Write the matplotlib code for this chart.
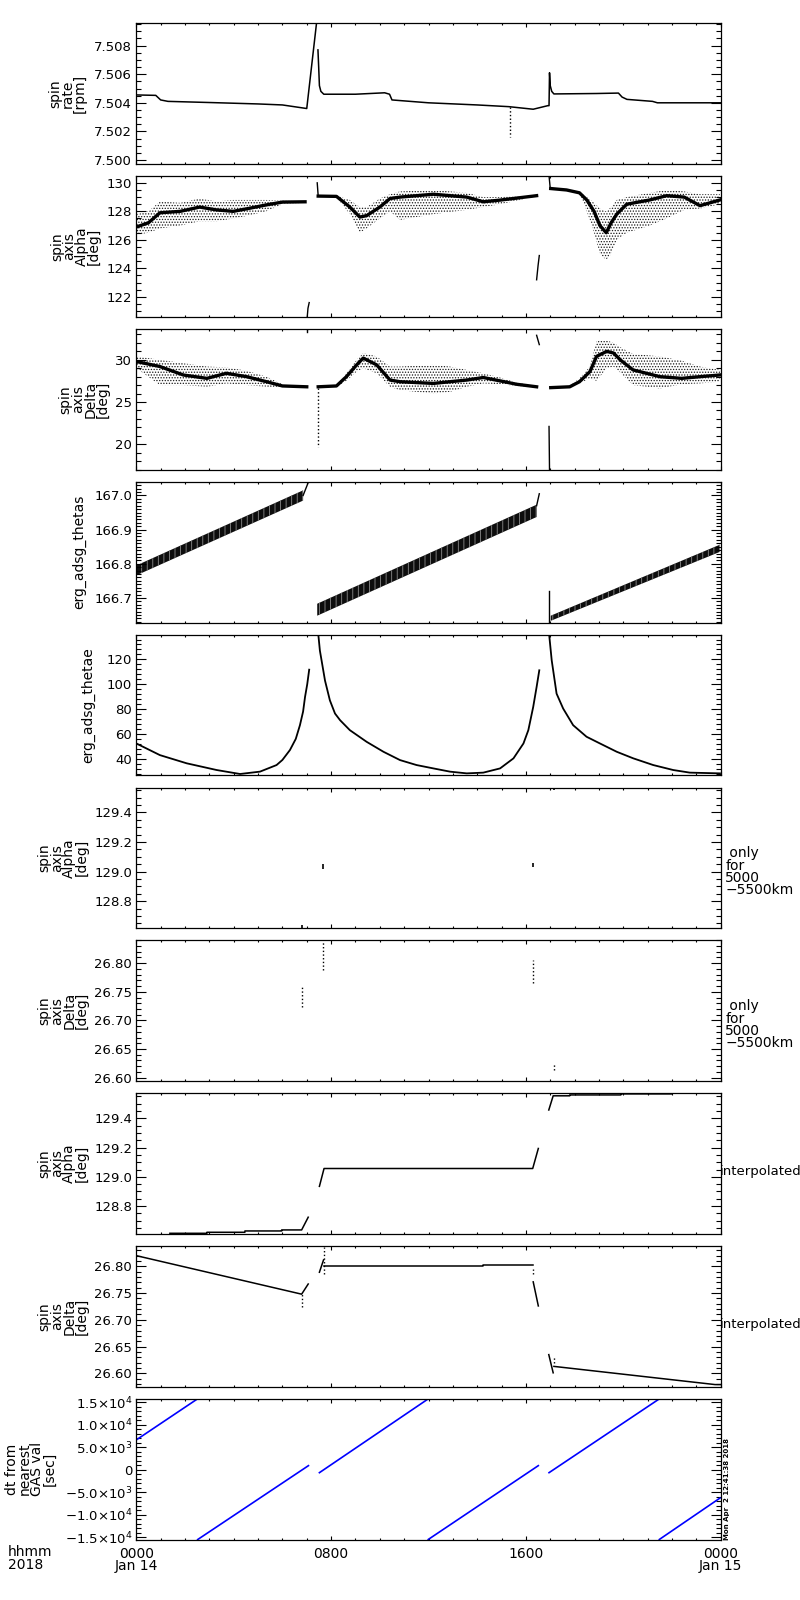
import matplotlib
matplotlib.use('Agg')
import matplotlib.pyplot as plt
from matplotlib.ticker import MultipleLocator, FormatStrFormatter, FixedLocator, FixedFormatter

plt.rcParams['hatch.linewidth'] = 0.6

# --- Data, time in hours from 2018-01-14 0000

# spin rate [rpm]
rate_t = [0.0, 0.8, 1.0, 1.3, 3.0, 5.0, 6.0, 7.0, 7.43]
rate_v = [7.50455, 7.50452, 7.50420, 7.50410, 7.50402, 7.50392, 7.50385, 7.50360, 7.51000]
rate_t2 = [7.46, 7.49, 7.52, 7.58, 7.7, 9.0, 10.2, 10.4, 10.5, 12.0, 14.0, 15.3, 16.3, 16.9,
           16.95, 16.97, 17.0, 17.06, 17.15, 18.9, 19.8, 19.95, 20.15, 21.2, 21.4, 24.0]
rate_v2 = [7.5077, 7.5065, 7.5052, 7.5048, 7.5046, 7.5046, 7.5047, 7.5046, 7.5042, 7.5040,
           7.50385, 7.50373, 7.50355, 7.5038,
           7.5038, 7.5061, 7.5052, 7.5048, 7.50462, 7.50465, 7.50468, 7.5044, 7.50424,
           7.5041, 7.5040, 7.5040]
rate_drop_t = [15.35, 15.35]
rate_drop_v = [7.5037, 7.5016]

# spin axis alpha [deg]: dense core plus scatter envelope
alpha_t_a = [0.0, 0.5, 0.97, 1.8, 2.6, 3.3, 3.98, 4.6, 5.33, 6.0, 6.93]
alpha_core_a = [126.9, 127.2, 127.9, 128.0, 128.3, 128.1, 128.0, 128.2, 128.45, 128.65, 128.67]
alpha_lo_a = [126.35, 126.5, 126.8, 127.0, 127.3, 127.3, 127.5, 127.7, 128.0, 128.5, 128.6]
alpha_hi_a = [127.8, 128.0, 128.7, 128.6, 128.9, 128.7, 128.8, 128.8, 128.8, 128.75, 128.7]
alpha_t_b = [7.47, 8.22, 8.77, 9.18, 9.46, 10.0, 10.42, 10.83, 12.2, 13.57, 14.25, 14.94, 16.3, 16.44]
alpha_core_b = [129.07, 129.05, 128.3, 127.6, 127.7, 128.3, 128.9, 129.0, 129.2, 129.0, 128.67, 128.79, 129.07, 129.1]
alpha_lo_b = [129.05, 129.0, 127.8, 126.5, 126.8, 127.5, 128.0, 127.4, 127.8, 128.1, 128.3, 128.5, 129.0, 129.05]
alpha_hi_b = [129.1, 129.1, 128.8, 128.3, 128.3, 128.9, 129.2, 129.4, 129.5, 129.3, 129.0, 129.0, 129.1, 129.1]
alpha_t_c = [17.02, 17.67, 18.2, 18.5, 18.8, 19.04, 19.3, 19.5, 19.73, 20.14, 21.09, 21.78, 22.5, 23.15, 23.97]
alpha_core_c = [129.6, 129.5, 129.3, 128.8, 128.0, 127.0, 126.5, 127.2, 127.8, 128.5, 128.8, 129.1, 129.0, 128.4, 128.8]
alpha_lo_c = [129.55, 129.45, 129.2, 128.0, 126.5, 125.0, 124.6, 125.0, 126.0, 126.5, 127.0, 127.5, 128.1, 128.2, 128.5]
alpha_hi_c = [129.6, 129.55, 129.35, 129.0, 128.6, 128.2, 128.0, 128.3, 128.8, 129.0, 129.3, 129.5, 129.4, 129.2, 129.2]
alpha_spk_t = [[7.02, 7.05, 7.1], [7.43, 7.47], [16.44, 16.5, 16.55], [16.95, 17.0]]
alpha_spk_v = [[120.6, 121.2, 121.6], [130.0, 129.07], [123.2, 124.2, 124.9], [130.5, 129.6]]

# spin axis delta [deg]
delta_t_a = [0.0, 0.97, 1.93, 2.9, 3.7, 4.53, 5.35, 6.0, 7.0]
delta_core_a = [29.8, 29.2, 28.2, 27.8, 28.4, 28.0, 27.4, 26.9, 26.8]
delta_lo_a = [29.0, 27.0, 27.0, 26.8, 27.2, 27.0, 26.8, 26.7, 26.75]
delta_hi_a = [30.4, 30.0, 29.6, 29.2, 29.1, 28.7, 28.0, 27.1, 26.85]
delta_t_b = [7.47, 8.22, 8.63, 9.05, 9.32, 9.87, 10.42, 10.83, 12.2, 12.88, 13.57, 14.25, 14.94, 15.62, 16.44]
delta_core_b = [26.8, 26.9, 28.0, 29.4, 30.2, 29.4, 27.6, 27.4, 27.2, 27.4, 27.6, 27.9, 27.5, 27.1, 26.8]
delta_lo_b = [26.75, 26.8, 27.5, 28.6, 29.0, 28.4, 26.8, 26.4, 26.0, 26.2, 26.8, 27.2, 27.1, 26.9, 26.75]
delta_hi_b = [26.85, 27.0, 28.4, 30.0, 30.8, 30.4, 29.2, 29.2, 29.4, 29.2, 28.8, 28.4, 27.9, 27.3, 26.85]
delta_t_c = [17.02, 17.8, 18.2, 18.63, 18.9, 19.32, 19.6, 19.87, 20.4, 21.5, 22.4, 23.15, 23.97]
delta_core_c = [26.7, 26.8, 27.4, 28.6, 30.4, 31.0, 30.8, 30.0, 28.8, 28.0, 27.8, 28.0, 28.2]
delta_lo_c = [26.65, 26.75, 27.2, 27.8, 27.5, 29.0, 29.2, 28.5, 27.0, 26.6, 27.1, 27.2, 27.4]
delta_hi_c = [26.75, 26.9, 27.8, 29.2, 32.2, 32.3, 32.0, 31.5, 30.7, 30.4, 29.9, 29.2, 28.8]
delta_spk_t = [[7.0, 7.0], [16.44, 16.55], [16.95, 16.97]]
delta_spk_v = [[33.3, 33.7], [32.9, 31.8], [22.1, 16.9]]
delta_dot_t = [7.47, 7.47]
delta_dot_v = [26.6, 19.7]

# erg_adsg_thetas: band edges at start/end of each ramp
thetas_t = [[0.0, 6.85], [7.43, 16.44], [17.02, 23.97]]
thetas_lo = [[166.766, 166.985], [166.648, 166.937], [166.633, 166.835]]
thetas_hi = [[166.795, 167.015], [166.683, 166.973], [166.648, 166.856]]
thetas_spk_t = [[6.85, 7.1], [16.44, 16.55], [16.95, 16.95]]
thetas_spk_v = [[167.0, 167.045], [166.97, 167.005], [166.72, 166.63]]

# erg_adsg_thetae
thetae_t_a = [0.0, 0.97, 2.07, 3.3, 4.26, 5.08, 5.76, 6.0, 6.31, 6.55, 6.72, 6.85, 6.93, 7.02, 7.1]
thetae_v_a = [52.3, 42.9, 36.3, 30.9, 27.7, 29.6, 34.9, 39.0, 47.0, 56.0, 67.0, 78.0, 89.8, 100.0, 111.7]
thetae_t_b = [7.47, 7.54, 7.61, 7.75, 7.95, 8.16, 8.37, 8.77, 9.46, 10.15, 10.83, 11.51, 12.2,
              12.88, 13.57, 14.25, 14.94, 15.49, 15.9, 16.1, 16.3, 16.44, 16.55]
thetae_v_b = [141.0, 127.0, 119.0, 102.9, 87.0, 76.4, 71.0, 63.0, 53.6, 45.6, 38.9, 34.9, 32.2,
              29.6, 28.2, 28.8, 32.2, 40.3, 52.3, 63.0, 81.7, 97.8, 111.2]
thetae_t_c = [16.95, 17.06, 17.26, 17.53, 17.94, 18.49, 19.04, 19.73, 20.41, 21.23, 22.05, 22.73, 23.97]
thetae_v_c = [141.0, 119.2, 92.4, 80.4, 67.0, 57.7, 52.3, 45.6, 40.3, 34.9, 30.9, 28.8, 28.2]

# only for 5000-5500 km
only_alpha_t = [6.82, 7.68, 16.28, 17.15]
only_alpha_lo = [128.62, 129.02, 129.03, 129.55]
only_alpha_hi = [128.64, 129.05, 129.06, 129.57]
only_delta_t = [6.82, 7.68, 16.28, 17.15]
only_delta_lo = [26.724, 26.788, 26.765, 26.613]
only_delta_hi = [26.759, 26.838, 26.806, 26.625]

# interpolated alpha
ialpha_t = [[1.38, 2.9, 2.9, 4.46, 4.46, 5.97, 5.97, 6.79, 7.06],
            [7.52, 7.71, 16.28, 16.51],
            [16.94, 17.12, 17.8, 17.8, 19.9, 19.9, 22.0, 22.0, 24.0]]
ialpha_v = [[128.614, 128.614, 128.621, 128.621, 128.630, 128.630, 128.637, 128.637, 128.724],
            [128.935, 129.057, 129.057, 129.194],
            [129.457, 129.554, 129.554, 129.560, 129.560, 129.567, 129.567, 129.58, 129.58]]

# interpolated delta
idelta_t = [[0.0, 6.79, 7.06], [7.52, 7.69], [7.71, 14.22, 14.22, 16.28],
            [16.30, 16.51], [16.94, 17.12], [17.15, 23.77, 24.0]]
idelta_v = [[26.820, 26.748, 26.767], [26.789, 26.812], [26.800, 26.800, 26.803, 26.803],
            [26.771, 26.726], [26.635, 26.601], [26.613, 26.579, 26.579]]
idelta_dot_t = [6.79, 7.70, 16.28, 17.15]
idelta_dot_lo = [26.724, 26.786, 26.785, 26.620]
idelta_dot_hi = [26.748, 26.836, 26.795, 26.632]

# dt from nearest GAS val [sec]
dt_start_h = [0.0, 2.52, 7.52, 11.99, 16.95, 21.48]
dt_end_h = [2.5, 7.07, 11.95, 16.51, 21.44, 23.97]
dt_start_v = [6600, -15500, -667, -15481, -667, -15481]
dt_end_v = [15650, 889, 15556, 889, 15556, -6296]
dt_ticks = [-15000, -10000, -5000, 0, 5000, 10000, 15000]
dt_labels = [r'$-$1.5$\times$10$^{4}$', r'$-$1.0$\times$10$^{4}$', r'$-$5.0$\times$10$^{3}$', '0',
             r'5.0$\times$10$^{3}$', r'1.0$\times$10$^{4}$', r'1.5$\times$10$^{4}$']

xtick_labels = ['0000\nJan 14', '0800', '1600', '0000\nJan 15']


def style_axis(ax, ylim, major, minor, fmt=None):
    ax.set_xlim(0, 24)
    ax.set_ylim(*ylim)
    ax.xaxis.set_major_locator(MultipleLocator(8))
    ax.xaxis.set_minor_locator(MultipleLocator(1))
    ax.yaxis.set_major_locator(MultipleLocator(major))
    ax.yaxis.set_minor_locator(MultipleLocator(minor))
    if fmt:
        ax.yaxis.set_major_formatter(FormatStrFormatter(fmt))
    ax.tick_params(which='both', direction='in', top=True, right=True, width=0.8,
                   labelsize=9.5, pad=3, labelbottom=False)
    ax.tick_params(axis='x', which='major', length=3.2)
    ax.tick_params(axis='x', which='minor', length=1.6)
    ax.tick_params(axis='y', which='major', length=7.4)
    ax.tick_params(axis='y', which='minor', length=3.8)
    for s in ax.spines.values():
        s.set_linewidth(0.9)


def scatter_band(ax, t, core, lo, hi):
    # stippled envelope for the scattered points, dark core for the dense part
    ax.fill_between(t, lo, hi, facecolor='none', edgecolor='0.1', hatch='......', lw=0)
    ax.plot(t, core, 'k-', lw=2.4)


fig = plt.figure(figsize=(8, 16), dpi=100)
W, H = 800.0, 1600.0
left, right = 136.3, 720.7
top0, period, height = 23.3, 152.84, 140.7
axes = []
for i in range(10):
    top = top0 + i * period
    axes.append(fig.add_axes([left / W, 1 - (top + height) / H, (right - left) / W, height / H]))

lab = dict(fontsize=10, linespacing=0.85, multialignment='center')

# --- spin rate
ax = axes[0]
ax.plot(rate_t, rate_v, 'k-', lw=1.1)
ax.plot(rate_t2, rate_v2, 'k-', lw=1.1)
ax.plot(rate_drop_t, rate_drop_v, 'k:', lw=1)
style_axis(ax, (7.49972, 7.50956), 0.002, 0.0005, '%.3f')
ax.set_ylabel('spin\nrate\n[rpm]', labelpad=5, **lab)

# --- spin axis alpha
ax = axes[1]
scatter_band(ax, alpha_t_a, alpha_core_a, alpha_lo_a, alpha_hi_a)
scatter_band(ax, alpha_t_b, alpha_core_b, alpha_lo_b, alpha_hi_b)
scatter_band(ax, alpha_t_c, alpha_core_c, alpha_lo_c, alpha_hi_c)
for t, v in zip(alpha_spk_t, alpha_spk_v):
    ax.plot(t, v, 'k-', lw=1)
style_axis(ax, (120.6, 130.47), 2, 0.5, '%d')
ax.set_ylabel('spin\naxis\nAlpha\n[deg]', labelpad=4, **lab)

# --- spin axis delta
ax = axes[2]
scatter_band(ax, delta_t_a, delta_core_a, delta_lo_a, delta_hi_a)
scatter_band(ax, delta_t_b, delta_core_b, delta_lo_b, delta_hi_b)
scatter_band(ax, delta_t_c, delta_core_c, delta_lo_c, delta_hi_c)
for t, v in zip(delta_spk_t, delta_spk_v):
    ax.plot(t, v, 'k-', lw=1)
ax.plot(delta_dot_t, delta_dot_v, 'k:', lw=1)
style_axis(ax, (16.98, 33.65), 5, 1, '%d')
ax.set_ylabel('spin\naxis\nDelta\n[deg]', labelpad=4, **lab)

# --- thetas
ax = axes[3]
for t, lo, hi in zip(thetas_t, thetas_lo, thetas_hi):
    ax.fill_between(t, lo, hi, facecolor='0.05', edgecolor='0.55', hatch='|||', lw=0)
for t, v in zip(thetas_spk_t, thetas_spk_v):
    ax.plot(t, v, 'k-', lw=1)
style_axis(ax, (166.628, 167.04), 0.1, 0.01, '%.1f')
ax.set_ylabel('erg_adsg_thetas', labelpad=6, **lab)

# --- thetae
ax = axes[4]
ax.plot(thetae_t_a, thetae_v_a, 'k-', lw=1.3)
ax.plot(thetae_t_b, thetae_v_b, 'k-', lw=1.3)
ax.plot(thetae_t_c, thetae_v_c, 'k-', lw=1.3)
style_axis(ax, (26.6, 139.9), 20, 4, '%d')
ax.set_ylabel('erg_adsg_thetae', labelpad=8, **lab)

# --- only for 5000-5500km
ax = axes[5]
ax.vlines(only_alpha_t, only_alpha_lo, only_alpha_hi, colors='k', lw=1.2)
style_axis(ax, (128.617, 129.569), 0.2, 0.05, '%.1f')
ax.set_ylabel('spin\naxis\nAlpha\n[deg]', labelpad=4, **lab)
ax.text(1.008, 0.40, ' only\nfor\n5000\n\u22125500km', transform=ax.transAxes,
        ha='left', va='center', fontsize=10, linespacing=0.85)

ax = axes[6]
ax.vlines(only_delta_t, only_delta_lo, only_delta_hi, colors='k', lw=1, linestyles=':')
style_axis(ax, (26.594, 26.840), 0.05, 0.01, '%.2f')
ax.set_ylabel('spin\naxis\nDelta\n[deg]', labelpad=4, **lab)
ax.text(1.008, 0.40, ' only\nfor\n5000\n\u22125500km', transform=ax.transAxes,
        ha='left', va='center', fontsize=10, linespacing=0.85)

# --- interpolated
ax = axes[7]
for t, v in zip(ialpha_t, ialpha_v):
    ax.plot(t, v, 'k-', lw=1.1)
style_axis(ax, (128.61, 129.572), 0.2, 0.05, '%.1f')
ax.set_ylabel('spin\naxis\nAlpha\n[deg]', labelpad=4, **lab)
ax.text(0.998, 0.44, 'interpolated', transform=ax.transAxes,
        ha='left', va='center', fontsize=9.5)

ax = axes[8]
for t, v in zip(idelta_t, idelta_v):
    ax.plot(t, v, 'k-', lw=1.1)
ax.vlines(idelta_dot_t, idelta_dot_lo, idelta_dot_hi, colors='k', lw=1, linestyles=':')
style_axis(ax, (26.575, 26.838), 0.05, 0.01, '%.2f')
ax.set_ylabel('spin\naxis\nDelta\n[deg]', labelpad=4, **lab)
ax.text(0.998, 0.44, 'interpolated', transform=ax.transAxes,
        ha='left', va='center', fontsize=9.5)

# --- dt from nearest GAS value
ax = axes[9]
for t0, t1, v0, v1 in zip(dt_start_h, dt_end_h, dt_start_v, dt_end_v):
    ax.plot([t0, t1], [v0, v1], color='#0000ff', lw=1.2)
style_axis(ax, (-15500, 15700), 5000, 1000)
ax.yaxis.set_major_locator(FixedLocator(dt_ticks))
ax.yaxis.set_major_formatter(FixedFormatter(dt_labels))
ax.set_ylabel('dt from\nnearest\nGAS val\n[sec]', labelpad=6, **lab)
ax.set_xticks([0, 8, 16, 24])
ax.set_xticklabels(xtick_labels, linespacing=0.9)
ax.tick_params(axis='x', labelbottom=True, labelsize=10, pad=5)
ax.text(1.005, 0.0, 'Mon Apr  2 12:41:38 2018', transform=ax.transAxes, rotation=90,
        ha='left', va='bottom', fontsize=5, fontweight='bold')

fig.text(8 / W, 1 - 1545 / H, 'hhmm\n2018', ha='left', va='top', fontsize=10, linespacing=0.9)

fig.savefig('out.png', dpi=100)
